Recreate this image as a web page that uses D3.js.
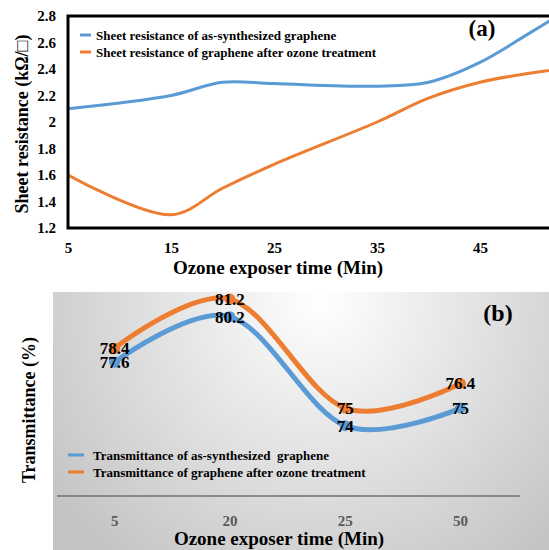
<!DOCTYPE html>
<html><head><meta charset="utf-8">
<script src="https://cdn.jsdelivr.net/npm/d3@7"></script>
<style>body{margin:0;background:#fff}svg{display:block}</style>
</head><body><svg id="c" width="549" height="550"></svg>
<script>
// ---- Chart (a) data ----
const timesA = [5, 15, 20, 25, 35, 40, 45, 50, 55];
const rAsSynth = [2.1, 2.2, 2.3, 2.29, 2.27, 2.3, 2.45, 2.68, 2.92];
const rOzone   = [1.6, 1.3, 1.5, 1.68, 2.0, 2.18, 2.3, 2.37, 2.42];
const ticksXA = [5, 15, 25, 35, 45];
const ticksYA = [1.2, 1.4, 1.6, 1.8, 2, 2.2, 2.4, 2.6, 2.8];
const legendA = ["Sheet resistance of as-synthesized graphene", "Sheet resistance of graphene after ozone treatment"];
// ---- Chart (b) data ----
const catsB = ["5", "20", "25", "50"];
const tAsSynth = [77.6, 80.2, 74, 75];
const tOzone   = [78.4, 81.2, 75, 76.4];
const legendB = ["Transmittance of as-synthesized  graphene", "Transmittance of graphene after ozone treatment"];

const FONT = "'Liberation Serif', 'Times New Roman', Tinos, 'DejaVu Serif', 'Noto Serif', serif";
const BLUE = "#5B9BD5", ORANGE = "#ED7D31";
const svg = d3.select("#c").attr("font-family", FONT).attr("font-weight", "bold");
const fixText = sel => sel.attr("font-family", FONT).attr("font-weight", "bold")
  .style("font-family", FONT).style("font-weight", "bold");

// ===== Chart (a) =====
const xA = d3.scaleLinear().domain([5, 55]).range([68, 583]);
const yA = d3.scaleLinear().domain([1.2, 2.8]).range([228, 16]);
svg.append("defs").append("clipPath").attr("id", "clipA")
  .append("rect").attr("x", 68).attr("y", 16).attr("width", 515).attr("height", 212);
const lineA = d3.line().x(d => xA(d[0])).y(d => yA(d[1])).curve(d3.curveCatmullRom.alpha(0.5));
const gA = svg.append("g");
[[rAsSynth, BLUE], [rOzone, ORANGE]].forEach(([vals, col]) => {
  gA.append("path").attr("clip-path", "url(#clipA)")
    .attr("d", lineA(timesA.map((t, i) => [t, vals[i]])))
    .attr("fill", "none").attr("stroke", col).attr("stroke-width", 3);
});
gA.append("rect").attr("x", 68).attr("y", 16).attr("width", 515).attr("height", 212)
  .attr("fill", "none").attr("stroke", "#000").attr("stroke-width", 3);
// axes
const axYA = d3.axisLeft(yA).tickValues(ticksYA).tickSize(0).tickPadding(12).tickFormat(d3.format("~g"));
gA.append("g").attr("transform", "translate(68,0)").call(axYA)
  .call(g => g.select(".domain").remove())
  .selectAll("text").attr("font-size", 15).attr("fill", "#000").call(fixText);
const axXA = d3.axisBottom(xA).tickValues(ticksXA).tickSize(0).tickPadding(14);
gA.append("g").attr("transform", "translate(0,228)").call(axXA)
  .call(g => g.select(".domain").remove())
  .selectAll("text").attr("font-size", 15).attr("fill", "#000").call(fixText);
gA.selectAll("g").attr("font-family", FONT);
gA.append("text").attr("x", 278).attr("y", 274).attr("text-anchor", "middle").attr("font-size", 19).call(fixText).text("Ozone exposer time (Min)");
gA.append("text").attr("transform", "translate(28,124) rotate(-90)").attr("text-anchor", "middle").attr("font-size", 18).call(fixText).text("Sheet resistance (kΩ/□)");
gA.append("text").attr("x", 482).attr("y", 36).attr("text-anchor", "middle").attr("font-size", 23).call(fixText).text("(a)");
legendA.forEach((t, i) => {
  const y = 35 + i * 17;
  gA.append("line").attr("x1", 80).attr("x2", 91).attr("y1", y).attr("y2", y).attr("stroke", i ? ORANGE : BLUE).attr("stroke-width", 3);
  gA.append("text").attr("x", 96).attr("y", y + 4.5).attr("font-size", 13).call(fixText).text(t);
});

// ===== Chart (b) =====
const defs = svg.select("defs");
const grad = defs.append("radialGradient").attr("id", "bg")
  .attr("gradientUnits", "userSpaceOnUse").attr("cx", 320).attr("cy", 300).attr("r", 330);
grad.append("stop").attr("offset", "0").attr("stop-color", "#ffffff");
grad.append("stop").attr("offset", "1").attr("stop-color", "#c4c4c4");
svg.append("rect").attr("x", 53).attr("y", 292).attr("width", 496).attr("height", 258).attr("fill", "url(#bg)");

const xB = d3.scaleBand().domain(catsB).range([57, 518]);
const yB = d3.scaleLinear().domain([70, 82]).range([496, 285]);
const cx = c => xB(c) + xB.bandwidth() / 2;
const gB = svg.append("g");
gB.append("line").attr("x1", 57).attr("x2", 520).attr("y1", yB(70)).attr("y2", yB(70)).attr("stroke", "#707070").attr("stroke-width", 1.5);
const axXB = d3.axisBottom(xB).tickSize(0).tickPadding(19);
gB.append("g").attr("transform", `translate(0,${yB(70)})`).call(axXB)
  .call(g => g.select(".domain").remove())
  .selectAll("text").attr("font-size", 15).attr("fill", "#595959").call(fixText);
gB.selectAll("g").attr("font-family", FONT);
const lineB = d3.line().x(d => cx(d[0])).y(d => yB(d[1])).curve(d3.curveCatmullRom.alpha(0));
[[tAsSynth, BLUE], [tOzone, ORANGE]].forEach(([vals, col]) => {
  const pts = catsB.map((c, i) => [c, vals[i]]);
  gB.append("path").attr("d", lineB(pts)).attr("fill", "none").attr("stroke", col).attr("stroke-width", 5);
  gB.selectAll(null).data(pts).enter().append("circle")
    .attr("cx", d => cx(d[0])).attr("cy", d => yB(d[1])).attr("r", 5.5).attr("fill", col);
});
[tAsSynth, tOzone].forEach(vals => {
  gB.selectAll(null).data(catsB.map((c, i) => [c, vals[i]])).enter().append("text")
    .attr("x", d => cx(d[0])).attr("y", d => yB(d[1])).attr("dy", "0.35em")
    .attr("text-anchor", "middle").attr("font-size", 17).attr("fill", "#000").call(fixText).text(d => d[1]);
});
gB.append("text").attr("x", 498).attr("y", 321).attr("text-anchor", "middle").attr("font-size", 24).call(fixText).text("(b)");
legendB.forEach((t, i) => {
  const y = 455 + i * 17;
  gB.append("line").attr("x1", 68).attr("x2", 84).attr("y1", y).attr("y2", y).attr("stroke", i ? ORANGE : BLUE).attr("stroke-width", 3);
  gB.append("text").attr("x", 93).attr("y", y + 4.5).attr("font-size", 13).attr("xml:space", "preserve").style("white-space", "pre").call(fixText).text(t);
});
gB.append("text").attr("x", 279).attr("y", 545).attr("text-anchor", "middle").attr("font-size", 19).call(fixText).text("Ozone exposer time (Min)");
gB.append("text").attr("transform", "translate(35,410) rotate(-90)").attr("text-anchor", "middle").attr("font-size", 18).call(fixText).text("Transmittance (%)");
</script></body></html>
